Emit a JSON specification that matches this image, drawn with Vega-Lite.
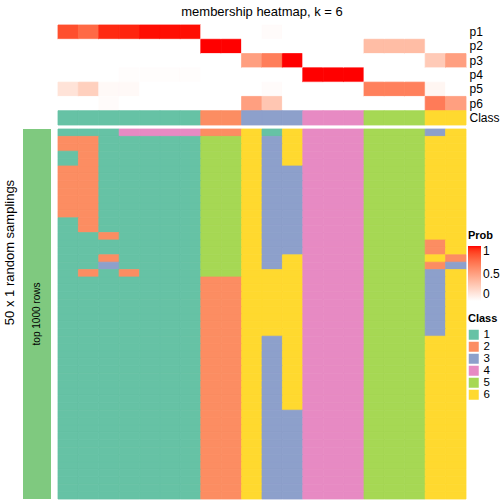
{
  "$schema": "https://vega.github.io/schema/vega-lite/v6.json",
  "padding": {"left": 3, "top": 5, "right": 0, "bottom": 0},
  "config": {"view": {"stroke": null}, "font": "Liberation Sans"},
  "title": {"text": "50 x 1 random samplings", "orient": "left", "anchor": "middle", "fontSize": 13, "fontWeight": "normal", "offset": 6},
  "datasets": {
    "samples": [
      {"sample": "s01", "p1": 0.85, "p2": 0, "p3": 0, "p4": 0, "p5": 0.15, "p6": 0, "cls": 1},
      {"sample": "s02", "p1": 0.75, "p2": 0, "p3": 0, "p4": 0, "p5": 0.25, "p6": 0, "cls": 1},
      {"sample": "s03", "p1": 0.95, "p2": 0, "p3": 0, "p4": 0, "p5": 0.03, "p6": 0.02, "cls": 1},
      {"sample": "s04", "p1": 0.96, "p2": 0, "p3": 0, "p4": 0.01, "p5": 0.03, "p6": 0, "cls": 1},
      {"sample": "s05", "p1": 0.99, "p2": 0, "p3": 0, "p4": 0.01, "p5": 0, "p6": 0, "cls": 1},
      {"sample": "s06", "p1": 0.99, "p2": 0, "p3": 0, "p4": 0.01, "p5": 0, "p6": 0, "cls": 1},
      {"sample": "s07", "p1": 0.99, "p2": 0, "p3": 0, "p4": 0.01, "p5": 0, "p6": 0, "cls": 1},
      {"sample": "s08", "p1": 0, "p2": 1, "p3": 0, "p4": 0, "p5": 0, "p6": 0, "cls": 2},
      {"sample": "s09", "p1": 0, "p2": 1, "p3": 0, "p4": 0, "p5": 0, "p6": 0, "cls": 2},
      {"sample": "s10", "p1": 0, "p2": 0, "p3": 0.5, "p4": 0, "p5": 0, "p6": 0.5, "cls": 3},
      {"sample": "s11", "p1": 0.02, "p2": 0, "p3": 0.66, "p4": 0, "p5": 0.02, "p6": 0.3, "cls": 3},
      {"sample": "s12", "p1": 0, "p2": 0, "p3": 1, "p4": 0, "p5": 0, "p6": 0, "cls": 3},
      {"sample": "s13", "p1": 0, "p2": 0, "p3": 0, "p4": 1, "p5": 0, "p6": 0, "cls": 4},
      {"sample": "s14", "p1": 0, "p2": 0, "p3": 0, "p4": 1, "p5": 0, "p6": 0, "cls": 4},
      {"sample": "s15", "p1": 0, "p2": 0, "p3": 0, "p4": 1, "p5": 0, "p6": 0, "cls": 4},
      {"sample": "s16", "p1": 0, "p2": 0.35, "p3": 0, "p4": 0, "p5": 0.65, "p6": 0, "cls": 5},
      {"sample": "s17", "p1": 0, "p2": 0.35, "p3": 0, "p4": 0, "p5": 0.65, "p6": 0, "cls": 5},
      {"sample": "s18", "p1": 0, "p2": 0.35, "p3": 0, "p4": 0, "p5": 0.65, "p6": 0, "cls": 5},
      {"sample": "s19", "p1": 0, "p2": 0, "p3": 0.28, "p4": 0, "p5": 0.05, "p6": 0.67, "cls": 6},
      {"sample": "s20", "p1": 0, "p2": 0, "p3": 0.5, "p4": 0, "p5": 0, "p6": 0.5, "cls": 6}
    ],
    "runs": [
      {"r":0,"s01":1,"s02":1,"s03":1,"s04":4,"s05":4,"s06":4,"s07":4,"s08":2,"s09":2,"s10":6,"s11":1,"s12":6,"s13":4,"s14":4,"s15":4,"s16":5,"s17":5,"s18":5,"s19":3,"s20":6},
      {"r":1,"s01":2,"s02":2,"s03":1,"s04":1,"s05":1,"s06":1,"s07":1,"s08":5,"s09":5,"s10":6,"s11":3,"s12":6,"s13":4,"s14":4,"s15":4,"s16":5,"s17":5,"s18":5,"s19":6,"s20":6},
      {"r":2,"s01":2,"s02":2,"s03":1,"s04":1,"s05":1,"s06":1,"s07":1,"s08":5,"s09":5,"s10":6,"s11":3,"s12":6,"s13":4,"s14":4,"s15":4,"s16":5,"s17":5,"s18":5,"s19":6,"s20":6},
      {"r":3,"s01":1,"s02":2,"s03":1,"s04":1,"s05":1,"s06":1,"s07":1,"s08":5,"s09":5,"s10":6,"s11":3,"s12":6,"s13":4,"s14":4,"s15":4,"s16":5,"s17":5,"s18":5,"s19":6,"s20":6},
      {"r":4,"s01":1,"s02":2,"s03":1,"s04":1,"s05":1,"s06":1,"s07":1,"s08":5,"s09":5,"s10":6,"s11":3,"s12":6,"s13":4,"s14":4,"s15":4,"s16":5,"s17":5,"s18":5,"s19":6,"s20":6},
      {"r":5,"s01":2,"s02":2,"s03":1,"s04":1,"s05":1,"s06":1,"s07":1,"s08":5,"s09":5,"s10":6,"s11":3,"s12":3,"s13":4,"s14":4,"s15":4,"s16":5,"s17":5,"s18":5,"s19":6,"s20":6},
      {"r":6,"s01":2,"s02":2,"s03":1,"s04":1,"s05":1,"s06":1,"s07":1,"s08":5,"s09":5,"s10":6,"s11":3,"s12":3,"s13":4,"s14":4,"s15":4,"s16":5,"s17":5,"s18":5,"s19":6,"s20":6},
      {"r":7,"s01":2,"s02":2,"s03":1,"s04":1,"s05":1,"s06":1,"s07":1,"s08":5,"s09":5,"s10":6,"s11":3,"s12":3,"s13":4,"s14":4,"s15":4,"s16":5,"s17":5,"s18":5,"s19":6,"s20":6},
      {"r":8,"s01":2,"s02":2,"s03":1,"s04":1,"s05":1,"s06":1,"s07":1,"s08":5,"s09":5,"s10":6,"s11":3,"s12":3,"s13":4,"s14":4,"s15":4,"s16":5,"s17":5,"s18":5,"s19":6,"s20":6},
      {"r":9,"s01":2,"s02":2,"s03":1,"s04":1,"s05":1,"s06":1,"s07":1,"s08":5,"s09":5,"s10":6,"s11":3,"s12":3,"s13":4,"s14":4,"s15":4,"s16":5,"s17":5,"s18":5,"s19":6,"s20":6},
      {"r":10,"s01":2,"s02":2,"s03":1,"s04":1,"s05":1,"s06":1,"s07":1,"s08":5,"s09":5,"s10":6,"s11":3,"s12":3,"s13":4,"s14":4,"s15":4,"s16":5,"s17":5,"s18":5,"s19":6,"s20":6},
      {"r":11,"s01":2,"s02":2,"s03":1,"s04":1,"s05":1,"s06":1,"s07":1,"s08":5,"s09":5,"s10":6,"s11":3,"s12":3,"s13":4,"s14":4,"s15":4,"s16":5,"s17":5,"s18":5,"s19":6,"s20":6},
      {"r":12,"s01":1,"s02":2,"s03":1,"s04":1,"s05":1,"s06":1,"s07":1,"s08":5,"s09":5,"s10":6,"s11":3,"s12":3,"s13":4,"s14":4,"s15":4,"s16":5,"s17":5,"s18":5,"s19":6,"s20":6},
      {"r":13,"s01":1,"s02":2,"s03":1,"s04":1,"s05":1,"s06":1,"s07":1,"s08":5,"s09":5,"s10":6,"s11":3,"s12":3,"s13":4,"s14":4,"s15":4,"s16":5,"s17":5,"s18":5,"s19":6,"s20":6},
      {"r":14,"s01":1,"s02":1,"s03":2,"s04":1,"s05":1,"s06":1,"s07":1,"s08":5,"s09":5,"s10":6,"s11":3,"s12":3,"s13":4,"s14":4,"s15":4,"s16":5,"s17":5,"s18":5,"s19":6,"s20":6},
      {"r":15,"s01":1,"s02":1,"s03":1,"s04":1,"s05":1,"s06":1,"s07":1,"s08":5,"s09":5,"s10":6,"s11":3,"s12":3,"s13":4,"s14":4,"s15":4,"s16":5,"s17":5,"s18":5,"s19":2,"s20":6},
      {"r":16,"s01":1,"s02":1,"s03":1,"s04":1,"s05":1,"s06":1,"s07":1,"s08":5,"s09":5,"s10":6,"s11":3,"s12":3,"s13":4,"s14":4,"s15":4,"s16":5,"s17":5,"s18":5,"s19":2,"s20":6},
      {"r":17,"s01":1,"s02":1,"s03":2,"s04":1,"s05":1,"s06":1,"s07":1,"s08":5,"s09":5,"s10":6,"s11":3,"s12":6,"s13":4,"s14":4,"s15":4,"s16":5,"s17":5,"s18":5,"s19":6,"s20":2},
      {"r":18,"s01":1,"s02":1,"s03":3,"s04":1,"s05":1,"s06":1,"s07":1,"s08":5,"s09":5,"s10":6,"s11":3,"s12":6,"s13":4,"s14":4,"s15":4,"s16":5,"s17":5,"s18":5,"s19":2,"s20":3},
      {"r":19,"s01":1,"s02":2,"s03":1,"s04":2,"s05":1,"s06":1,"s07":1,"s08":5,"s09":5,"s10":6,"s11":6,"s12":6,"s13":4,"s14":4,"s15":4,"s16":5,"s17":5,"s18":5,"s19":3,"s20":6},
      {"r":20,"s01":1,"s02":1,"s03":1,"s04":1,"s05":1,"s06":1,"s07":1,"s08":2,"s09":2,"s10":6,"s11":6,"s12":6,"s13":4,"s14":4,"s15":4,"s16":5,"s17":5,"s18":5,"s19":3,"s20":6},
      {"r":21,"s01":1,"s02":1,"s03":1,"s04":1,"s05":1,"s06":1,"s07":1,"s08":2,"s09":2,"s10":6,"s11":6,"s12":6,"s13":4,"s14":4,"s15":4,"s16":5,"s17":5,"s18":5,"s19":3,"s20":6},
      {"r":22,"s01":1,"s02":1,"s03":1,"s04":1,"s05":1,"s06":1,"s07":1,"s08":2,"s09":2,"s10":6,"s11":6,"s12":6,"s13":4,"s14":4,"s15":4,"s16":5,"s17":5,"s18":5,"s19":3,"s20":6},
      {"r":23,"s01":1,"s02":1,"s03":1,"s04":1,"s05":1,"s06":1,"s07":1,"s08":2,"s09":2,"s10":6,"s11":6,"s12":6,"s13":4,"s14":4,"s15":4,"s16":5,"s17":5,"s18":5,"s19":3,"s20":6},
      {"r":24,"s01":1,"s02":1,"s03":1,"s04":1,"s05":1,"s06":1,"s07":1,"s08":2,"s09":2,"s10":6,"s11":6,"s12":6,"s13":4,"s14":4,"s15":4,"s16":5,"s17":5,"s18":5,"s19":3,"s20":6},
      {"r":25,"s01":1,"s02":1,"s03":1,"s04":1,"s05":1,"s06":1,"s07":1,"s08":2,"s09":2,"s10":6,"s11":6,"s12":6,"s13":4,"s14":4,"s15":4,"s16":5,"s17":5,"s18":5,"s19":3,"s20":6},
      {"r":26,"s01":1,"s02":1,"s03":1,"s04":1,"s05":1,"s06":1,"s07":1,"s08":2,"s09":2,"s10":6,"s11":6,"s12":6,"s13":4,"s14":4,"s15":4,"s16":5,"s17":5,"s18":5,"s19":3,"s20":6},
      {"r":27,"s01":1,"s02":1,"s03":1,"s04":1,"s05":1,"s06":1,"s07":1,"s08":2,"s09":2,"s10":6,"s11":6,"s12":6,"s13":4,"s14":4,"s15":4,"s16":5,"s17":5,"s18":5,"s19":3,"s20":6},
      {"r":28,"s01":1,"s02":1,"s03":1,"s04":1,"s05":1,"s06":1,"s07":1,"s08":2,"s09":2,"s10":6,"s11":3,"s12":6,"s13":4,"s14":4,"s15":4,"s16":5,"s17":5,"s18":5,"s19":6,"s20":6},
      {"r":29,"s01":1,"s02":1,"s03":1,"s04":1,"s05":1,"s06":1,"s07":1,"s08":2,"s09":2,"s10":6,"s11":3,"s12":6,"s13":4,"s14":4,"s15":4,"s16":5,"s17":5,"s18":5,"s19":6,"s20":6},
      {"r":30,"s01":1,"s02":1,"s03":1,"s04":1,"s05":1,"s06":1,"s07":1,"s08":2,"s09":2,"s10":6,"s11":3,"s12":6,"s13":4,"s14":4,"s15":4,"s16":5,"s17":5,"s18":5,"s19":6,"s20":6},
      {"r":31,"s01":1,"s02":1,"s03":1,"s04":1,"s05":1,"s06":1,"s07":1,"s08":2,"s09":2,"s10":6,"s11":3,"s12":6,"s13":4,"s14":4,"s15":4,"s16":5,"s17":5,"s18":5,"s19":6,"s20":6},
      {"r":32,"s01":1,"s02":1,"s03":1,"s04":1,"s05":1,"s06":1,"s07":1,"s08":2,"s09":2,"s10":6,"s11":3,"s12":6,"s13":4,"s14":4,"s15":4,"s16":5,"s17":5,"s18":5,"s19":6,"s20":6},
      {"r":33,"s01":1,"s02":1,"s03":1,"s04":1,"s05":1,"s06":1,"s07":1,"s08":2,"s09":2,"s10":6,"s11":3,"s12":6,"s13":4,"s14":4,"s15":4,"s16":5,"s17":5,"s18":5,"s19":6,"s20":6},
      {"r":34,"s01":1,"s02":1,"s03":1,"s04":1,"s05":1,"s06":1,"s07":1,"s08":2,"s09":2,"s10":6,"s11":3,"s12":6,"s13":4,"s14":4,"s15":4,"s16":5,"s17":5,"s18":5,"s19":6,"s20":6},
      {"r":35,"s01":1,"s02":1,"s03":1,"s04":1,"s05":1,"s06":1,"s07":1,"s08":2,"s09":2,"s10":6,"s11":3,"s12":6,"s13":4,"s14":4,"s15":4,"s16":5,"s17":5,"s18":5,"s19":6,"s20":6},
      {"r":36,"s01":1,"s02":1,"s03":1,"s04":1,"s05":1,"s06":1,"s07":1,"s08":2,"s09":2,"s10":6,"s11":3,"s12":6,"s13":4,"s14":4,"s15":4,"s16":5,"s17":5,"s18":5,"s19":6,"s20":6},
      {"r":37,"s01":1,"s02":1,"s03":1,"s04":1,"s05":1,"s06":1,"s07":1,"s08":2,"s09":2,"s10":6,"s11":3,"s12":6,"s13":4,"s14":4,"s15":4,"s16":5,"s17":5,"s18":5,"s19":6,"s20":6},
      {"r":38,"s01":1,"s02":1,"s03":1,"s04":1,"s05":1,"s06":1,"s07":1,"s08":2,"s09":2,"s10":6,"s11":3,"s12":3,"s13":4,"s14":4,"s15":4,"s16":5,"s17":5,"s18":5,"s19":6,"s20":6},
      {"r":39,"s01":1,"s02":1,"s03":1,"s04":1,"s05":1,"s06":1,"s07":1,"s08":2,"s09":2,"s10":6,"s11":3,"s12":3,"s13":4,"s14":4,"s15":4,"s16":5,"s17":5,"s18":5,"s19":6,"s20":6},
      {"r":40,"s01":1,"s02":1,"s03":1,"s04":1,"s05":1,"s06":1,"s07":1,"s08":2,"s09":2,"s10":6,"s11":3,"s12":3,"s13":4,"s14":4,"s15":4,"s16":5,"s17":5,"s18":5,"s19":6,"s20":6},
      {"r":41,"s01":1,"s02":1,"s03":1,"s04":1,"s05":1,"s06":1,"s07":1,"s08":2,"s09":2,"s10":6,"s11":3,"s12":3,"s13":4,"s14":4,"s15":4,"s16":5,"s17":5,"s18":5,"s19":6,"s20":6},
      {"r":42,"s01":1,"s02":1,"s03":1,"s04":1,"s05":1,"s06":1,"s07":1,"s08":2,"s09":2,"s10":6,"s11":3,"s12":3,"s13":4,"s14":4,"s15":4,"s16":5,"s17":5,"s18":5,"s19":6,"s20":6},
      {"r":43,"s01":1,"s02":1,"s03":1,"s04":1,"s05":1,"s06":1,"s07":1,"s08":2,"s09":2,"s10":6,"s11":3,"s12":3,"s13":4,"s14":4,"s15":4,"s16":5,"s17":5,"s18":5,"s19":6,"s20":6},
      {"r":44,"s01":1,"s02":1,"s03":1,"s04":1,"s05":1,"s06":1,"s07":1,"s08":2,"s09":2,"s10":6,"s11":3,"s12":3,"s13":4,"s14":4,"s15":4,"s16":5,"s17":5,"s18":5,"s19":6,"s20":6},
      {"r":45,"s01":1,"s02":1,"s03":1,"s04":1,"s05":1,"s06":1,"s07":1,"s08":2,"s09":2,"s10":6,"s11":3,"s12":3,"s13":4,"s14":4,"s15":4,"s16":5,"s17":5,"s18":5,"s19":6,"s20":6},
      {"r":46,"s01":1,"s02":1,"s03":1,"s04":1,"s05":1,"s06":1,"s07":1,"s08":2,"s09":2,"s10":6,"s11":3,"s12":3,"s13":4,"s14":4,"s15":4,"s16":5,"s17":5,"s18":5,"s19":6,"s20":6},
      {"r":47,"s01":1,"s02":1,"s03":1,"s04":1,"s05":1,"s06":1,"s07":1,"s08":2,"s09":2,"s10":6,"s11":3,"s12":3,"s13":4,"s14":4,"s15":4,"s16":5,"s17":5,"s18":5,"s19":6,"s20":6},
      {"r":48,"s01":1,"s02":1,"s03":1,"s04":1,"s05":1,"s06":1,"s07":1,"s08":2,"s09":2,"s10":6,"s11":3,"s12":3,"s13":4,"s14":4,"s15":4,"s16":5,"s17":5,"s18":5,"s19":6,"s20":6},
      {"r":49,"s01":1,"s02":1,"s03":1,"s04":1,"s05":1,"s06":1,"s07":1,"s08":2,"s09":2,"s10":6,"s11":3,"s12":3,"s13":4,"s14":4,"s15":4,"s16":5,"s17":5,"s18":5,"s19":6,"s20":6}
    ]
  },
  "columns": 2,
  "spacing": {"row": 2, "column": 6},
  "concat": [
    {
      "width": 28, "height": 100,
      "data": {"values": []},
      "mark": "rect",
      "encoding": {}
    },
    {
      "width": 408, "height": 100,
      "title": {"text": "membership heatmap, k = 6", "frame": "group", "anchor": "middle", "fontSize": 13, "fontWeight": "normal", "offset": 6},
      "data": {"name": "samples"},
      "layer": [
        {
          "transform": [{"fold": ["p1", "p2", "p3", "p4", "p5", "p6"], "as": ["row", "prob"]}],
          "mark": {"type": "rect", "stroke": {"expr": "scale('fill', datum.prob)"}, "strokeWidth": 0.8},
          "encoding": {
            "x": {"field": "sample", "type": "nominal", "axis": null, "scale": {"paddingInner": 0, "paddingOuter": 0}},
            "y": {"field": "row", "type": "nominal", "scale": {"domain": ["p1", "p2", "p3", "p4", "p5", "p6", "Class"], "paddingInner": 0, "paddingOuter": 0},
                  "axis": {"orient": "right", "title": null, "domain": false, "ticks": false, "labelFontSize": 12, "labelPadding": 3, "labelColor": "#000"}},
            "fill": {"field": "prob", "type": "quantitative",
                     "scale": {"domain": [0, 1], "range": ["#FFFFFF", "#FF0000"], "interpolate": "lab"},
                     "legend": {"title": "Prob", "orient": "none", "legendX": 445, "legendY": 205, "values": [0, 0.5, 1], "format": "~g", "labelBaseline": "middle", "gradientLength": 55, "gradientThickness": 13, "titleFontSize": 11, "labelFontSize": 12, "labelColor": "#000", "titleColor": "#000", "gradientStrokeWidth": 0}}
          }
        },
        {
          "mark": {"type": "rect", "stroke": {"expr": "scale('color', datum.cls)"}, "strokeWidth": 0.8},
          "encoding": {
            "x": {"field": "sample", "type": "nominal", "axis": null},
            "y": {"datum": "Class", "type": "nominal"},
            "color": {"field": "cls", "type": "nominal",
                      "scale": {"domain": [1, 2, 3, 4, 5, 6], "range": ["#66C2A5", "#FC8D62", "#8DA0CB", "#E78AC3", "#A6D854", "#FFD92F"]},
                      "legend": {"title": "Class", "orient": "none", "legendX": 445, "legendY": 288, "symbolType": "square", "symbolSize": 100, "symbolStrokeWidth": 0, "symbolOpacity": 1, "rowPadding": -2, "titleFontSize": 11, "labelFontSize": 11.5, "labelColor": "#000", "titleColor": "#000"}}
          }
        }
      ]
    },
    {
      "width": 28, "height": 370,
      "data": {"values": [{"label": "top 1000 rows"}]},
      "layer": [
        {"mark": {"type": "rect", "color": "#7FC97F"}, "encoding": {}},
        {"mark": {"type": "text", "angle": 270, "fontSize": 10, "color": "#000"}, "encoding": {"text": {"field": "label"}}}
      ]
    },
    {
      "width": 408, "height": 370,
      "data": {"name": "runs"},
      "transform": [{"fold": ["s01", "s02", "s03", "s04", "s05", "s06", "s07", "s08", "s09", "s10", "s11", "s12", "s13", "s14", "s15", "s16", "s17", "s18", "s19", "s20"], "as": ["sample", "cls"]}],
      "mark": {"type": "rect", "stroke": {"expr": "scale('color', datum.cls)"}, "strokeWidth": 0.8},
      "encoding": {
        "x": {"field": "sample", "type": "nominal", "axis": null, "scale": {"paddingInner": 0, "paddingOuter": 0}},
        "y": {"field": "r", "type": "ordinal", "axis": null, "scale": {"paddingInner": 0, "paddingOuter": 0}},
        "color": {"field": "cls", "type": "nominal",
                  "scale": {"domain": [1, 2, 3, 4, 5, 6], "range": ["#66C2A5", "#FC8D62", "#8DA0CB", "#E78AC3", "#A6D854", "#FFD92F"]},
                  "legend": {"title": "Class"}}
      }
    }
  ]
}
